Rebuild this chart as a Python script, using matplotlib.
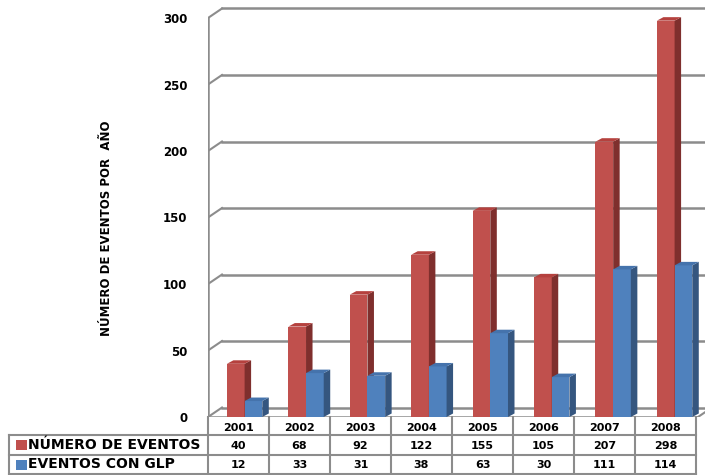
import matplotlib
matplotlib.use('Agg')
import matplotlib.pyplot as plt
from matplotlib.patches import Polygon, Rectangle

years = ['2001', '2002', '2003', '2004', '2005', '2006', '2007', '2008']
num_eventos = [40, 68, 92, 122, 155, 105, 207, 298]
eventos_glp = [12, 33, 31, 38, 63, 30, 111, 114]
series_names = ['NÚMERO DE EVENTOS', 'EVENTOS CON GLP']
yticks = [0, 50, 100, 150, 200, 250, 300]

red = '#C0504D'
red_side = '#7F2F2D'
red_top = '#B5413E'
blue = '#4F81BD'
blue_side = '#35567F'
blue_top = '#4573AC'
grid_col = '#8C8C8C'

W, H = 705, 475
fig = plt.figure(figsize=(W / 100, H / 100), dpi=100)

# overlay in pixel coords for the table
ov = fig.add_axes([0, 0, 1, 1])
ov.set_xlim(0, W)
ov.set_ylim(H, 0)
ov.axis('off')

# chart axes: left edge at px 208, floor at px 417, 61 px per category
x0_px, floor_px, col_w = 208, 417, 61
ax = fig.add_axes([x0_px / W, (H - floor_px) / H, (W - x0_px) / W, floor_px / H])
ax.patch.set_alpha(0)
px_y = 399 / 300  # pixels per unit
xmax = (W - x0_px) / col_w
ymax = floor_px / px_y
ax.set_xlim(0, xmax)
ax.set_ylim(0, ymax)
for s in ax.spines.values():
    s.set_visible(False)
ax.set_xticks([])

# pixel offsets converted to data units
def ox(p):
    return p / col_w

def oy(p):
    return p / px_y

bx, by = ox(14), oy(9.5)   # back wall offset
dx, dy = ox(6.5), oy(3.5)  # bar depth

# walls / gridlines
for v in yticks:
    ax.plot([bx, xmax], [v + by, v + by], color=grid_col, lw=1.8, zorder=1)
    ax.plot([0, bx], [v, v + by], color=grid_col, lw=1.5, zorder=1)
ax.plot([0, 0], [0, 300], color=grid_col, lw=1.8, zorder=1)
xend = ox(490)
ax.plot([0, xend], [0, 0], color=grid_col, lw=1.8, zorder=1)
ax.plot([xend, xend + bx], [0, by], color=grid_col, lw=1.5, zorder=1)

ax.set_yticks(yticks)
ax.set_yticklabels([str(t) for t in yticks], fontsize=8.5, fontweight='bold')
ax.tick_params(axis='y', length=0, pad=15)

def bar3d(x, w, h, c, cs, ct):
    ax.add_patch(Rectangle((x, 0), w, h, facecolor=c, edgecolor='none', zorder=3))
    ax.add_patch(Polygon([(x + w, 0), (x + w + dx, dy), (x + w + dx, h + dy), (x + w, h)],
                         closed=True, facecolor=cs, edgecolor='none', zorder=3))
    ax.add_patch(Polygon([(x, h), (x + w, h), (x + w + dx, h + dy), (x + dx, h + dy)],
                         closed=True, facecolor=ct, edgecolor='none', zorder=3))

bw = 0.29
for i in range(len(years)):
    left = i + 0.31 + 0.007 * i
    bar3d(left, bw, num_eventos[i], red, red_side, red_top)
    bar3d(left + bw, bw, eventos_glp[i], blue, blue_side, blue_top)

fig.text(107 / W, 1 - 228 / H, 'NÚMERO DE EVENTOS POR  AÑO', rotation=90,
         ha='center', va='center', fontsize=8.5, fontweight='bold')

# data table
tcol = '#8C8C8C'
row_y = [435, 455, 474]
n = len(years)
for i in range(n + 1):
    xl = x0_px + col_w * i
    ov.plot([xl, xl], [floor_px, row_y[-1]], color=tcol, lw=1.5)
ov.plot([9, 9], [row_y[0], row_y[-1]], color=tcol, lw=1.5)
for yy in row_y:
    ov.plot([9, x0_px + col_w * n], [yy, yy], color=tcol, lw=1.5)

for i, yr in enumerate(years):
    xc = x0_px + col_w * (i + 0.5)
    ov.text(xc, 428, yr, ha='center', va='center', fontsize=8, fontweight='bold')
    ov.text(xc, 446, str(num_eventos[i]), ha='center', va='center', fontsize=8, fontweight='bold')
    ov.text(xc, 465, str(eventos_glp[i]), ha='center', va='center', fontsize=8, fontweight='bold')

for k, (name, c) in enumerate(zip(series_names, [red, blue])):
    yc = (row_y[k] + row_y[k + 1]) / 2
    ov.add_patch(Rectangle((16, yc - 5), 11, 10, facecolor=c, edgecolor='none'))
    ov.text(28, yc, name, ha='left', va='center', fontsize=10, fontweight='bold')

fig.savefig('out.png', dpi=100)
